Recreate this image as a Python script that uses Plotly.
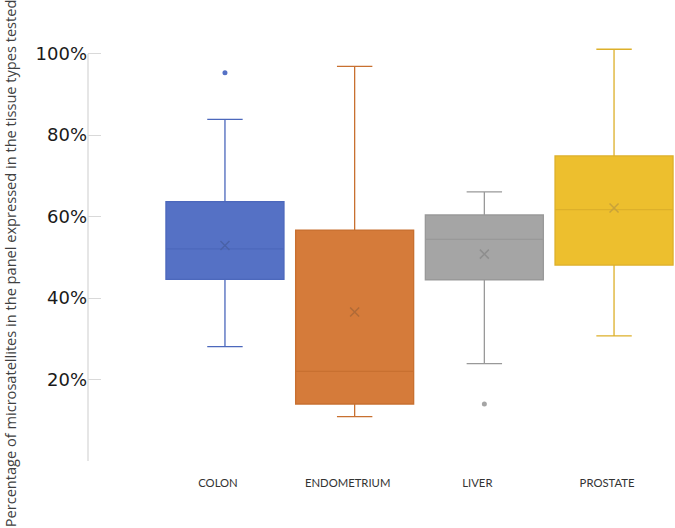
import plotly.graph_objects as go

categories = ["COLON", "ENDOMETRIUM", "LIVER", "PROSTATE"]
q1 = [0.446, 0.140, 0.445, 0.481]
median = [0.521, 0.220, 0.544, 0.617]
q3 = [0.637, 0.567, 0.604, 0.749]
lower = [0.281, 0.109, 0.239, 0.307]
upper = [0.839, 0.969, 0.661, 1.011]
means = [0.529, 0.366, 0.508, 0.621]
outlier_cat = ["COLON", "LIVER"]
outlier_val = [0.953, 0.140]

fills = ["#5571C5", "#D57B3A", "#A5A5A5", "#EDBF2E"]
lines = ["#4C68BC", "#C87030", "#999999", "#DDB02A"]
xcols = ["#4A62A8", "#B06A38", "#8E8E8E", "#C8A23A"]

fig = go.Figure()
for i, c in enumerate(categories):
    fig.add_trace(go.Box(
        x=[c], q1=[q1[i]], median=[median[i]], q3=[q3[i]],
        lowerfence=[lower[i]], upperfence=[upper[i]],
        fillcolor=fills[i], line=dict(color=lines[i], width=1.3),
        width=0.91, whiskerwidth=0.3, boxpoints=False, showlegend=False,
        hoverinfo="skip",
    ))
    fig.add_trace(go.Scatter(
        x=[c], y=[means[i]], mode="markers",
        marker=dict(symbol="x-thin", size=9, line=dict(color=xcols[i], width=1.5)),
        showlegend=False, hoverinfo="skip",
    ))

out_cols = [fills[categories.index(c)] for c in outlier_cat]
fig.add_trace(go.Scatter(
    x=outlier_cat, y=outlier_val, mode="markers",
    marker=dict(size=5, color=out_cols), showlegend=False, hoverinfo="skip",
))

# y axis line from 0 to 100%
fig.add_shape(type="line", xref="paper", yref="y", x0=0, x1=0, y0=0, y1=1.0,
              line=dict(color="#D9D9D9", width=1.3))

fig.add_annotation(
    text="Percentage of microsatellites in the panel expressed in the tissue types tested",
    xref="paper", yref="paper", x=(10 - 88) / 587, y=(460.7 - 263) / 448,
    textangle=-90, showarrow=False, xanchor="center", yanchor="middle",
    font=dict(family="Open Sans", size=14.6, color="#404040"),
)

fig.update_layout(
    width=675, height=528,
    margin=dict(l=88, r=0, t=13, b=67),
    paper_bgcolor="white", plot_bgcolor="white",
    boxmode="overlay",
    xaxis=dict(
        type="category", categoryorder="array", categoryarray=categories,
        range=[-1.056, 3.47], showline=False, showgrid=False, zeroline=False,
        ticks="", ticklabelshift=-7, ticklabelstandoff=14,
        tickfont=dict(family="Lato", size=11.3, color="#333333"),
    ),
    yaxis=dict(
        range=[0, 1.1], tickvals=[0, 0.2, 0.4, 0.6, 0.8, 1.0],
        ticktext=["", "20%", "40%", "60%", "80%", "100%"],
        showline=False, showgrid=False, zeroline=False,
        ticks="inside", ticklen=13, tickcolor="#D9D9D9", tickwidth=1.3,
        tickfont=dict(family="DejaVu Sans", size=18, color="#1a1a1a"),
    ),
)

fig.write_html("out.html")
